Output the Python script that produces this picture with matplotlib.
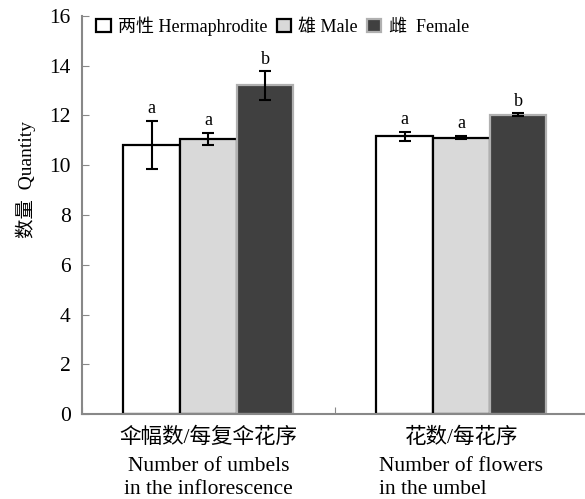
import numpy as np
import matplotlib
matplotlib.use("Agg")
from matplotlib import pyplot as plt
from matplotlib.patches import Patch

plt.rcParams['font.family'] = ['Liberation Serif', 'Noto Sans CJK SC']

groups_cn = ["伞幅数/每复伞花序", "花数/每花序"]
groups_en = ["Number of umbels\nin the inflorescence", "Number of flowers\nin the umbel"]
series = ["两性 Hermaphrodite", "雄 Male", "雌  Female"]
means = [[10.8, 11.15], [11.05, 11.1], [13.2, 12.02]]
errs = [[0.97, 0.18], [0.24, 0.07], [0.57, 0.06]]
letters = [["a", "a"], ["a", "a"], ["b", "b"]]

fills = ["white", "#d9d9d9", "#404040"]
edges = ["black", "black", "#b0b0b0"]

fig = plt.figure(figsize=(5.85, 4.99), dpi=100)
ax = fig.add_axes([0.140, 0.170, 0.865, 0.7985])

x = np.array([0.5, 1.5])
w = 0.224
for i in range(3):
    xs = x + (i - 1) * w
    ax.bar(xs, means[i], w, color=fills[i], edgecolor=edges[i], linewidth=1.6, zorder=2)
    ax.errorbar(xs, means[i], yerr=errs[i], fmt="none", ecolor="black",
                elinewidth=1.5, capsize=4, capthick=1.5, zorder=3)
    for j in range(2):
        ax.text(xs[j], means[i][j] + errs[i][j] + 0.15, letters[i][j],
                ha="center", va="bottom", fontsize=13)

ax.set_xlim(0, 2)
ax.set_ylim(0, 16)
ax.set_yticks(range(0, 17, 2))
ax.set_xticks([0, 1, 2])
ax.set_xticklabels([])
ax.tick_params(axis="both", direction="in", length=5, color="#888888", labelsize=15.5)
ax.tick_params(axis="y", pad=8)
for s in ["top", "right"]:
    ax.spines[s].set_visible(False)
for s in ["left", "bottom"]:
    ax.spines[s].set_color("#888888")
    ax.spines[s].set_linewidth(1.5)

ax.set_ylabel("数量  Quantity", fontsize=14)
ax.yaxis.set_label_coords(-0.09, 0.59)

# left group lines centred, right group lines left-aligned as in the original
aligns = ["center", "left"]
for j in range(2):
    ax.text(x[j], -0.55, groups_cn[j], ha="center", va="top", fontsize=15.5)
    ax.text(x[j], -1.7, groups_en[j], ha="center", va="top", multialignment=aligns[j],
            fontsize=15.5, linespacing=1.3)

handles = [Patch(facecolor=fills[i], edgecolor=edges[i], linewidth=1.6) for i in range(3)]
ax.legend(handles, series, loc="upper left", bbox_to_anchor=(0.0, 1.035), ncol=3,
          frameon=False, fontsize=13, handlelength=0.8, handleheight=0.8,
          handletextpad=0.4, columnspacing=0.5, borderpad=0.3)

fig.savefig("out.png", dpi=100)
